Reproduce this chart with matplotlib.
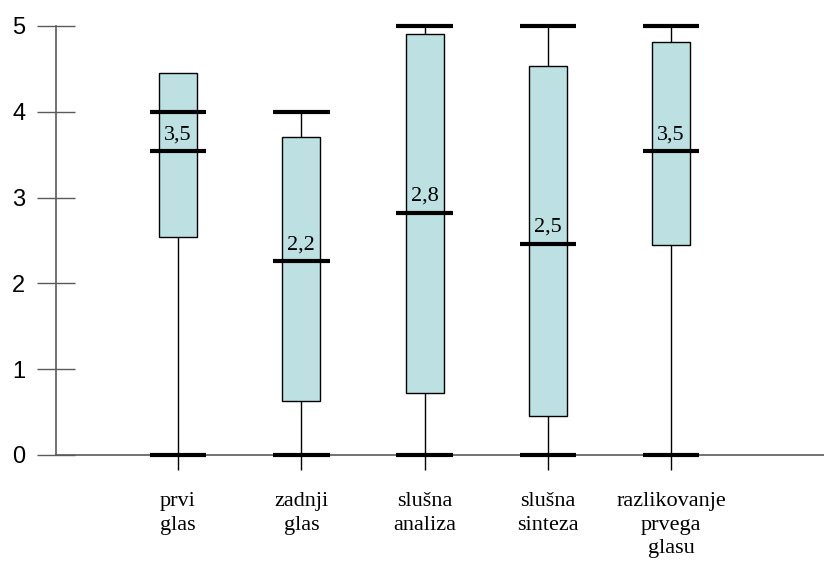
import matplotlib
matplotlib.use("Agg")
import matplotlib.pyplot as plt

# five-number summaries per subtest (score 0-5)
categories = ["prvi\nglas", "zadnji\nglas", "slušna\nanaliza", "slušna\nsinteza",
              "razlikovanje\nprvega\nglasu"]
minimum = [0, 0, 0, 0, 0]
q1 = [2.54, 0.63, 0.72, 0.45, 2.45]
median = [3.54, 2.26, 2.82, 2.46, 3.54]
q3 = [4.45, 3.71, 4.90, 4.53, 4.81]
maximum = [4, 4, 5, 5, 5]
median_labels = ["3,5", "2,2", "2,8", "2,5", "3,5"]

box_color = "#bde0e3"
axis_color = "#5a5a5a"

fig = plt.figure(figsize=(8.24, 5.61), dpi=100)
ax = fig.add_axes([0.068, 0.189, 0.932, 0.7648])

pos = list(range(1, len(categories) + 1))
box_w = 0.31
cap_w = 0.46

# whisker runs min -> max behind the box
ax.vlines(pos, minimum, maximum, color="black", lw=1.0, zorder=1, clip_on=False)
ax.bar(pos, [b - a for a, b in zip(q1, q3)], bottom=q1, width=box_w,
       color=box_color, edgecolor="black", lw=1.0, zorder=2)
for x, lo, hi in zip(pos, minimum, maximum):
    ax.hlines([lo, hi], x - cap_w / 2, x + cap_w / 2, color="black", lw=3.0,
              zorder=3, clip_on=False)
ax.hlines(median, [x - cap_w / 2 for x in pos], [x + cap_w / 2 for x in pos],
          color="black", lw=3.0, zorder=3)
for x, m, lab in zip(pos, median, median_labels):
    ax.annotate(lab, (x, m), xytext=(0, 5), textcoords="offset points",
                ha="center", va="bottom", family="Liberation Serif",
                fontsize=16, zorder=4)

ax.set_xlim(0.01, 6.24)
ax.set_ylim(0, 5)

for side in ("top", "right"):
    ax.spines[side].set_visible(False)
for side in ("left", "bottom"):
    ax.spines[side].set_color(axis_color)
    ax.spines[side].set_linewidth(1.2)

ax.set_yticks(range(0, 6))
ax.tick_params(axis="y", direction="inout", length=28, width=1.0,
               color=axis_color, labelsize=17, pad=8)
for t in ax.get_yticklabels():
    t.set_family("Liberation Sans")

ax.set_xticks(pos)
ax.set_xticklabels(categories, family="Liberation Serif", fontsize=16,
                   linespacing=1.3, va="top")
ax.tick_params(axis="x", direction="out", length=11, width=1.0,
               color="black", pad=16)

fig.savefig("out.png", dpi=100)
